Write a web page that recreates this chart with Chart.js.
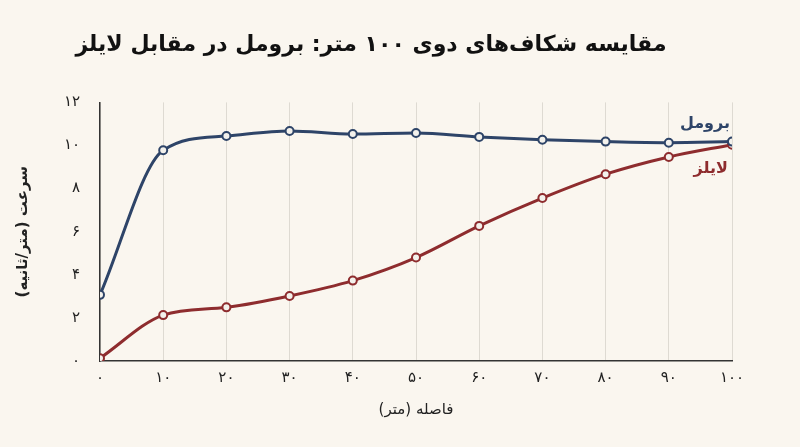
<!DOCTYPE html>
<html><head><meta charset="utf-8">
<script src="https://cdn.jsdelivr.net/npm/chart.js@4/dist/chart.umd.min.js"></script>
<style>html,body{margin:0;background:#faf6ef}#w{width:800px;height:447px}</style>
</head><body><div id="w"><canvas id="c"></canvas></div>
<script>
const distances=[0,10,20,30,40,50,60,70,80,90,100];
const boltSpeeds=[3.07,9.78,10.44,10.67,10.53,10.58,10.4,10.27,10.18,10.13,10.18];
const lylesSpeeds=[0.13,2.13,2.49,3.02,3.73,4.8,6.27,7.56,8.67,9.47,10.04];
const yTicks=[0,2,4,6,8,10,12];
const fa=n=>String(n).replace(/\d/g,d=>'۰۱۲۳۴۵۶۷۸۹'[d]);
const F='"DejaVu Sans", sans-serif';
const blue='#2e4468', red='#8e2c2e';
const endLabels={id:'endLabels',afterDatasetsDraw(ch){const c=ch.ctx;c.save();c.font='bold 16px '+F;c.textAlign='right';
 const m0=ch.getDatasetMeta(0).data[10], m1=ch.getDatasetMeta(1).data[10];
 c.fillStyle=blue;c.fillText('برومل',m0.x-2,m0.y-14);c.fillStyle=red;c.fillText('لایلز',m1.x-4,m1.y+28);c.restore();}};
const mk=(v)=>distances.map((d,i)=>({x:d,y:v[i]}));
new Chart(document.getElementById('c'),{type:'line',
data:{datasets:[
{data:mk(boltSpeeds),borderColor:blue,borderWidth:3,cubicInterpolationMode:'monotone',pointRadius:4,pointBackgroundColor:'#f3f1ec',pointBorderColor:blue,pointBorderWidth:2},
{data:mk(lylesSpeeds),borderColor:red,borderWidth:3,cubicInterpolationMode:'monotone',pointRadius:4,pointBackgroundColor:'#f3f1ec',pointBorderColor:red,pointBorderWidth:2}]},
options:{responsive:true,maintainAspectRatio:false,animation:false,
layout:{padding:{left:10,right:68,top:10,bottom:24}},
plugins:{legend:{display:false},tooltip:{enabled:false},
 title:{display:true,text:'مقایسه شکاف‌های دوی ۱۰۰ متر: برومل در مقابل لایلز',font:{family:F,size:22,weight:'bold'},color:'#111',padding:{top:22,bottom:44}}},
scales:{
 x:{type:'linear',min:0,max:100,ticks:{stepSize:10,callback:v=>fa(v),color:'#222',font:{family:F,size:15},padding:8},
  grid:{color:'#dedad2',drawTicks:false},border:{color:'#333',width:1.5},
  title:{display:true,text:'فاصله (متر)',font:{family:F,size:15},color:'#222',padding:{top:6}}},
 y:{min:0,max:12,afterBuildTicks:a=>{a.ticks=yTicks.map(v=>({value:v}))},ticks:{callback:v=>fa(v),color:'#222',font:{family:F,size:15},padding:12},
  grid:{display:false},border:{color:'#333',width:1.5},
  title:{display:true,text:'سرعت (متر/ثانیه)',font:{family:F,size:15,weight:'bold'},color:'#222'},
  afterFit:s=>{s.width=90}}}},
plugins:[endLabels]});
</script></body></html>
